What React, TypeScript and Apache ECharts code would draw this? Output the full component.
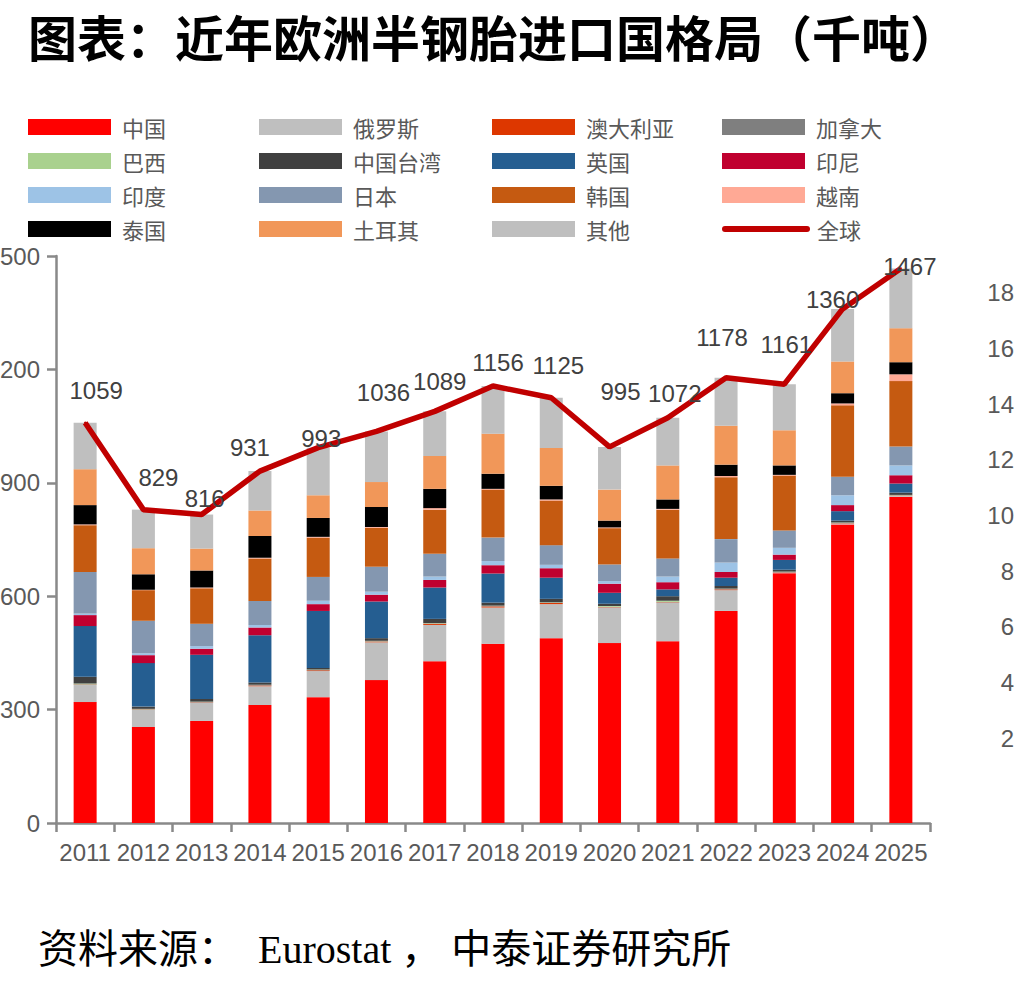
import React, { useEffect, useRef } from 'react';
import * as echarts from 'echarts';

// 欧洲半钢胎进口量（千吨），按来源国家/地区拆分
const years = ['2011', '2012', '2013', '2014', '2015', '2016', '2017', '2018', '2019', '2020', '2021', '2022', '2023', '2024', '2025'];
const china = [320, 254, 270, 312, 333, 378, 428, 474, 489, 476, 481, 561, 661, 790, 863];
const russia = [45, 45, 48, 50, 69, 100, 96, 96, 90, 94, 102, 55, 1, 2, 2];
const australia = [1, 1, 1, 2, 2, 2, 3, 3, 3, 1, 1, 2, 1, 1, 1];
const canada = [1, 1, 1, 1, 1, 1, 1, 1, 1, 1, 1, 1, 1, 1, 1];
const brazil = [2, 1, 1, 1, 1, 1, 1, 1, 1, 2, 3, 1, 1, 1, 1];
const taiwan = [18, 6, 7, 6, 4, 7, 11, 8, 9, 6, 12, 7, 5, 5, 6];
const uk = [134, 115, 117, 125, 151, 97, 83, 77, 56, 29, 18, 22, 26, 25, 24];
const indonesia = [29, 21, 16, 20, 18, 18, 20, 22, 25, 24, 19, 15, 14, 16, 22];
const india = [4, 5, 7, 7, 9, 8, 9, 11, 9, 7, 15, 25, 18, 26, 26];
const japan = [110, 86, 59, 63, 63, 66, 60, 62, 52, 44, 48, 62, 46, 49, 50];
const korea = [124, 81, 94, 113, 104, 103, 117, 127, 118, 96, 129, 164, 145, 189, 173];
const vietnam = [2, 1, 2, 2, 2, 2, 4, 2, 3, 2, 2, 3, 2, 5, 18];
const thailand = [51, 41, 45, 57, 50, 53, 51, 40, 36, 18, 25, 30, 25, 27, 32];
const turkey = [95, 69, 58, 68, 60, 66, 87, 106, 100, 82, 90, 103, 93, 84, 90];
const others = [123, 102, 90, 104, 126, 134, 118, 126, 133, 113, 126, 127, 122, 139, 158];
const globalTotal = [1059, 829, 816, 931, 993, 1036, 1089, 1156, 1125, 995, 1072, 1178, 1161, 1360, 1467];

const leftTicks = { min: 0, max: 1500, interval: 300 };
const rightTicks = { min: 0, max: 20, interval: 2 };

// 数据标签相对折线节点的偏移（像素）
const labelNudge: [number, number][] = [
  [11, -32], [15, -32], [3, -16], [-10, -24], [3, -9], [7, -39], [5, -30], [5, -24],
  [7, -32], [11, -55], [7, -24], [-4, -40], [2, -40], [-10, -9], [9, -2],
];

const stackSeries: { name: string; data: number[]; color: string }[] = [
  { name: '中国', data: china, color: '#ff0000' },
  { name: '俄罗斯', data: russia, color: '#bfbfbf' },
  { name: '澳大利亚', data: australia, color: '#dd3700' },
  { name: '加拿大', data: canada, color: '#7f7f7f' },
  { name: '巴西', data: brazil, color: '#a9d18e' },
  { name: '中国台湾', data: taiwan, color: '#404040' },
  { name: '英国', data: uk, color: '#255e91' },
  { name: '印尼', data: indonesia, color: '#c0002f' },
  { name: '印度', data: india, color: '#9dc3e6' },
  { name: '日本', data: japan, color: '#8497b0' },
  { name: '韩国', data: korea, color: '#c55a11' },
  { name: '越南', data: vietnam, color: '#ffa995' },
  { name: '泰国', data: thailand, color: '#000000' },
  { name: '土耳其', data: turkey, color: '#f19759' },
  { name: '其他', data: others, color: '#bfbfbf' },
];

const legendColumns = [
  ['中国', '巴西', '印度', '泰国'],
  ['俄罗斯', '中国台湾', '日本', '土耳其'],
  ['澳大利亚', '英国', '韩国', '其他'],
  ['加拿大', '印尼', '越南'],
];
const legendLefts = [28, 259, 492, 722];

const AXIS_FONT = "'Liberation Sans', Arial, sans-serif";
const CJK_FONT = "'Noto Sans CJK SC', sans-serif";

export default function App() {
  const ref = useRef<HTMLDivElement>(null);

  useEffect(() => {
    if (!ref.current) return;
    const chart = echarts.init(ref.current, undefined, { renderer: 'svg' });

    const legendText = {
      fontSize: 22,
      color: '#595959',
      fontFamily: CJK_FONT,
      padding: [0, 0, 0, 6],
    };

    const barLegends = legendColumns.map((col, i) => ({
      orient: 'vertical',
      left: legendLefts[i],
      top: 116,
      padding: 0,
      itemWidth: 83,
      itemHeight: 16,
      itemGap: 12,
      icon: 'rect',
      data: col,
      textStyle: legendText,
    }));

    const option: any = {
      animation: false,
      title: [
        {
          text: '图表：近年欧洲半钢胎进口国格局（千吨）',
          left: 28,
          top: 11,
          padding: 0,
          textStyle: { fontSize: 49, fontWeight: 'bold', color: '#000', fontFamily: CJK_FONT },
        },
        {
          text: '资料来源：  Eurostat ， 中泰证券研究所',
          left: 38,
          top: 929,
          padding: 0,
          textStyle: {
            fontSize: 40,
            fontWeight: 'normal',
            color: '#000',
            fontFamily: "'Liberation Serif', 'Noto Sans CJK SC', serif",
          },
        },
      ],
      legend: [
        ...barLegends,
        {
          orient: 'vertical',
          left: 722,
          top: 218,
          padding: 0,
          itemWidth: 88,
          itemHeight: 6,
          icon: 'path://M3,0 L85,0 A3,3 0 0 1 85,6 L3,6 A3,3 0 0 1 3,0 Z',
          itemStyle: { borderWidth: 0 },
          data: ['全球'],
          textStyle: { ...legendText, padding: [0, 0, 0, 2] },
        },
      ],
      grid: [
        { left: 56, right: 87, top: 256, bottom: 161, containLabel: false, outerBoundsMode: 'none' },
        { left: 900, right: 0, top: 237, height: 557, containLabel: false, outerBoundsMode: 'none' },
      ],
      xAxis: [
        {
          type: 'category',
          gridIndex: 0,
          data: years,
          boundaryGap: true,
          axisLine: { lineStyle: { color: '#898989', width: 2.5 } },
          axisTick: { show: true, length: 9, lineStyle: { color: '#898989', width: 2.5 } },
          axisLabel: { interval: 0, margin: 17, fontSize: 24, color: '#595959', fontFamily: AXIS_FONT },
        },
        { type: 'category', gridIndex: 1, data: years, show: false },
      ],
      yAxis: [
        {
          type: 'value',
          gridIndex: 0,
          ...leftTicks,
          axisLine: { show: true, lineStyle: { color: '#898989', width: 2.5 } },
          axisTick: { show: true, length: 9, lineStyle: { color: '#898989', width: 2.5 } },
          splitLine: { show: false },
          axisLabel: {
            margin: 16,
            fontSize: 24,
            color: '#595959',
            fontFamily: AXIS_FONT,
            formatter: (v: number) => String(v),
          },
        },
        {
          type: 'value',
          gridIndex: 1,
          position: 'right',
          ...rightTicks,
          axisLine: { show: false },
          axisTick: { show: false },
          splitLine: { show: false },
          axisLabel: {
            inside: true,
            margin: 3,
            fontSize: 24,
            color: '#595959',
            fontFamily: AXIS_FONT,
            formatter: (v: number) => (v === rightTicks.min || v === rightTicks.max ? '' : String(v)),
          },
        },
      ],
      series: [
        ...stackSeries.map((s) => ({
          name: s.name,
          type: 'bar',
          stack: 'total',
          xAxisIndex: 0,
          yAxisIndex: 0,
          barWidth: 23,
          data: s.data,
          itemStyle: { color: s.color, borderWidth: 0 },
          emphasis: { disabled: true },
        })),
        {
          name: '全球',
          type: 'line',
          xAxisIndex: 0,
          yAxisIndex: 0,
          z: 5,
          symbol: 'circle',
          symbolSize: 2,
          data: globalTotal.map((v, i) => ({ value: v, label: { offset: labelNudge[i] } })),
          lineStyle: { color: '#c00000', width: 5.5 },
          itemStyle: { color: '#c00000' },
          label: {
            show: true,
            position: 'inside',
            fontSize: 24,
            color: '#404040',
            fontFamily: AXIS_FONT,
          },
          emphasis: { disabled: true },
        },
      ],
    };

    chart.setOption(option);
    return () => chart.dispose();
  }, []);

  return (
    <div
      ref={ref}
      style={{ position: 'absolute', left: 0, top: 0, width: 1017, height: 984, background: '#fff' }}
    />
  );
}
